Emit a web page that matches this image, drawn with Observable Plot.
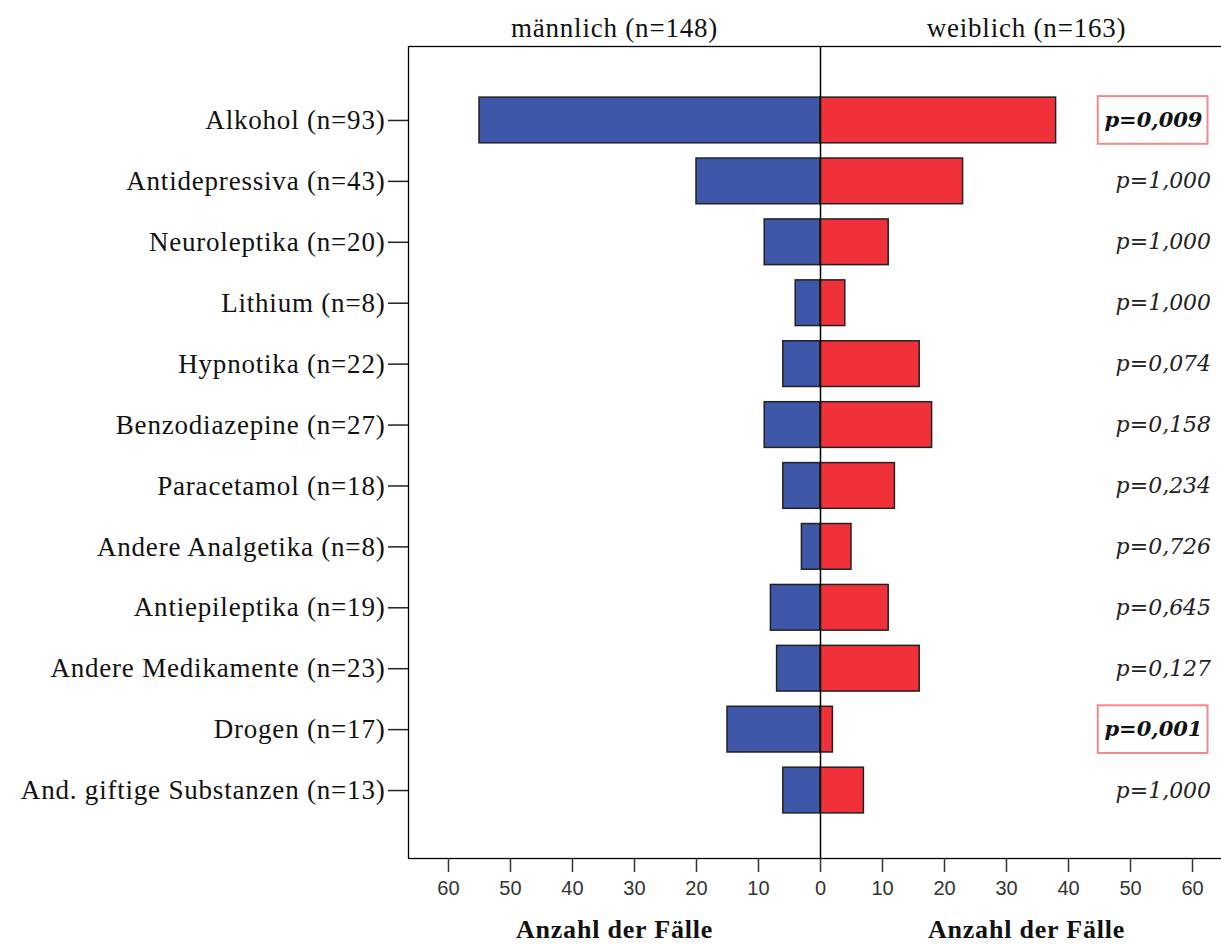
<!DOCTYPE html>
<html>
<head>
<meta charset="utf-8">
<script src="https://cdn.jsdelivr.net/npm/d3@7"></script>
<script src="https://cdn.jsdelivr.net/npm/@observablehq/plot@0.6"></script>
<style>
  html, body { margin: 0; padding: 0; background: #fff; overflow: hidden; }
  #chart svg { display: block; overflow: hidden; }
</style>
</head>
<body>
<div id="chart"></div>
<script>
const categories = [
  "Alkohol (n=93)",
  "Antidepressiva (n=43)",
  "Neuroleptika (n=20)",
  "Lithium (n=8)",
  "Hypnotika (n=22)",
  "Benzodiazepine (n=27)",
  "Paracetamol (n=18)",
  "Andere Analgetika (n=8)",
  "Antiepileptika (n=19)",
  "Andere Medikamente (n=23)",
  "Drogen (n=17)",
  "And. giftige Substanzen (n=13)"
];
const male   = [55, 20, 9, 4, 6, 9, 6, 3, 8, 7, 15, 6];
const female = [38, 23, 11, 4, 16, 18, 12, 5, 11, 16, 2, 7];
const pValues = ["p=0,009", "p=1,000", "p=1,000", "p=1,000", "p=0,074", "p=0,158",
                 "p=0,234", "p=0,726", "p=0,645", "p=0,127", "p=0,001", "p=1,000"];
const significant = [true, false, false, false, false, false, false, false, false, false, true, false];
const panelTitles = ["männlich (n=148)", "weiblich (n=163)"];
const axisTitle = "Anzahl der Fälle";
const xTicks = [-60, -50, -40, -30, -20, -10, 0, 10, 20, 30, 40, 50, 60];

const rows = categories.map((c, i) => ({
  cat: c, male: male[i], female: female[i], p: pValues[i], sig: significant[i]
}));

const serif = "'Liberation Serif', 'Times New Roman', serif";
const pfont = "'DejaVu Serif', serif";
const sans = "'Liberation Sans', Arial, sans-serif";
const D = 66.45;

const plot = Plot.plot({
  width: 1221,
  height: 944,
  marginLeft: 408,
  marginRight: -11,
  marginTop: 46,
  marginBottom: 86,
  style: { fontFamily: sans, background: "#fff", overflow: "hidden" },
  x: { domain: [-D, D], ticks: xTicks, tickFormat: d => String(Math.abs(d)), label: null },
  y: { domain: categories, range: [89.5, 820.5], paddingInner: 0.25, paddingOuter: 0.125, round: false, label: null },
  marks: [
    Plot.frame({ stroke: "#000", strokeWidth: 1.3 }),
    Plot.barX(rows, { y: "cat", x: d => -d.male, fill: "#3E57A8", stroke: "#222", strokeWidth: 1.5 }),
    Plot.barX(rows, { y: "cat", x: "female", fill: "#F0313A", stroke: "#222", strokeWidth: 1.5 }),
    Plot.ruleX([0], { stroke: "#000", strokeWidth: 1.5 }),
    // boxes around significant p-values
    Plot.barX(rows.filter(d => d.sig), { y: "cat", x1: () => 44.8, x2: () => 62.5,
      fill: "none", stroke: "#F08A8F", strokeWidth: 2, insetTop: -1, insetBottom: -1 }),
    Plot.text(rows.filter(d => !d.sig), { y: "cat", x: () => 55.3, text: "p",
      fontFamily: pfont, fontStyle: "italic", fontSize: 22, fill: "#222", textAnchor: "middle" }),
    Plot.text(rows.filter(d => d.sig), { y: "cat", x: () => 53.7, text: "p",
      fontFamily: pfont, fontStyle: "italic", fontWeight: "bold", fontSize: 21, fill: "#111", textAnchor: "middle" }),
    // y axis
    Plot.axisY({ anchor: "left", tickSize: 20, tickPadding: 3, fontSize: 27,
      fontFamily: serif, color: "#111", stroke: "#222", strokeWidth: 1.5, label: null }),
    // x axis
    Plot.axisX({ anchor: "bottom", ticks: xTicks, tickFormat: d => String(Math.abs(d)),
      tickSize: 14, tickPadding: 8, fontSize: 20, fill: "#333", stroke: "#333", strokeWidth: 1.5, label: null }),
    // panel titles
    Plot.text(panelTitles, { x: (d, i) => i === 0 ? -D / 2 : D / 2, frameAnchor: "top", lineAnchor: "middle", dy: -18,
      text: d => d, fontFamily: serif, fontSize: 27, fill: "#111" }),
    // axis titles
    Plot.text([axisTitle, axisTitle], { x: (d, i) => i === 0 ? -D / 2 : D / 2, frameAnchor: "bottom", lineAnchor: "middle", dy: 71,
      text: d => d, fontFamily: serif, fontWeight: "bold", fontSize: 26, fill: "#111" })
  ]
});
// letter spacing for serif text (y labels and titles)
plot.querySelectorAll("text").forEach(t => {
  const ff = t.closest("[font-family]");
  if (ff && ff.getAttribute("font-family").includes("Liberation Serif")) t.setAttribute("letter-spacing", "0.8");
});
document.getElementById("chart").appendChild(plot);
</script>
</body>
</html>
